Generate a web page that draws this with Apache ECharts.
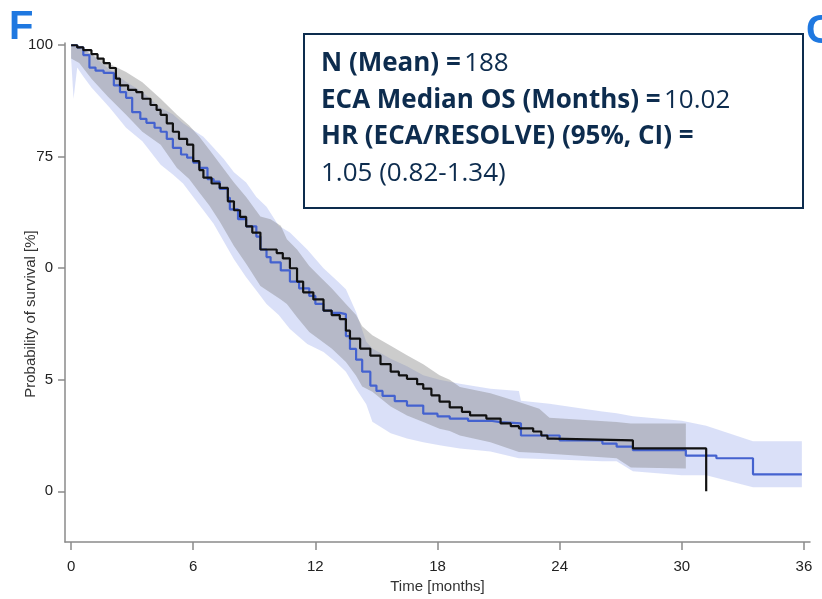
<!DOCTYPE html>
<html>
<head>
<meta charset="utf-8">
<script src="https://cdn.jsdelivr.net/npm/echarts@6/dist/echarts.min.js"></script>
<style>
  html, body { margin: 0; padding: 0; background: #fff; }
  #chart { width: 822px; height: 599px; }
</style>
</head>
<body>
<div id="chart"></div>
<script>
// tick positions and the labels as printed on the (cropped) figure
const xTicks = [0, 6, 12, 18, 24, 30, 36];
const yTicks = [0, 25, 50, 75, 100];
const yTickLabels = ['0', '5', '0', '75', '100'];

// Kaplan-Meier steps [month, survival %]
const ecaCurve = [
  [0, 100], [0.3, 99.5], [0.6, 98.9], [1.0, 98], [1.3, 97], [1.6, 96], [1.9, 94.9],
  [2.2, 92.5], [2.4, 91], [2.8, 90], [3.2, 89.5], [3.5, 88], [3.9, 86.6], [4.2, 85.5],
  [4.4, 84.4], [4.7, 82.5], [5.0, 80.6], [5.3, 79], [5.7, 77.7], [6.0, 74], [6.3, 72],
  [6.5, 70.3], [6.9, 69], [7.3, 68], [7.7, 65], [8.0, 63], [8.3, 61.5], [8.6, 59.4],
  [8.9, 58], [9.3, 54.2], [10.1, 53.4], [10.4, 52.2], [10.75, 50], [11.1, 47], [11.4, 44.6],
  [11.9, 43], [12.4, 40.5], [12.8, 39.5], [13.2, 38.6], [13.5, 36], [13.7, 34.2], [14.2, 32],
  [14.7, 30.4], [15.2, 28.5], [15.7, 26.8], [16.1, 26], [16.5, 25.2], [17.0, 24], [17.3, 23],
  [17.7, 21.5], [18.1, 20.1], [18.6, 18.8], [19.2, 17.8], [19.6, 17], [20.4, 16.3],
  [21.1, 15.2], [21.6, 14.6], [22.0, 14.1], [22.7, 13.4], [23.1, 12.5], [23.4, 11.8],
  [23.7, 11.4], [27.6, 9.6], [31.2, 0]
];
const resolveCurve = [
  [0, 100], [0.3, 99.5], [0.6, 97.8], [0.9, 95], [1.2, 94.3], [1.6, 93.8], [2.1, 91],
  [2.4, 89.5], [2.7, 88.2], [3.0, 85], [3.4, 83.5], [3.7, 82.6], [4.1, 81.5], [4.4, 80.6],
  [4.7, 79], [5.0, 77], [5.4, 75.5], [5.7, 74.8], [6.0, 73.7], [6.3, 72.5], [6.7, 70],
  [7.0, 69.4], [7.3, 67.8], [7.7, 65.8], [7.8, 63.2], [8.2, 61], [8.6, 59.4], [9.1, 57.1],
  [9.3, 54.2], [9.6, 52.5], [9.8, 51.3], [10.3, 49.5], [10.75, 47], [11.2, 45.5],
  [11.7, 43.8], [12.0, 42], [12.4, 40.5], [12.8, 40], [13.2, 39.7], [13.5, 34.8],
  [13.7, 31.9], [14.0, 29.5], [14.3, 26.8], [14.7, 23.7], [15.0, 22.5], [15.3, 21.4],
  [15.9, 20.2], [16.5, 19.2], [17.3, 17.4], [18.0, 16.8], [18.6, 16.3], [19.5, 15.8],
  [20.6, 15.5], [21.1, 15.2], [22.1, 12.5], [24.0, 11.4], [26.1, 10.7], [26.8, 10],
  [27.6, 9.2], [30.2, 8], [31.7, 7.4], [33.5, 3.8], [35.9, 3.8]
];

// 95% CI band outlines [month, lower, upper]
const ecaBand = [
  [0, 97, 100], [0.4, 96, 99.5], [1.0, 92.5, 98], [1.8, 88.5, 96], [2.7, 84.4, 94],
  [3.5, 80.6, 91.7], [4.4, 77.7, 88], [5.2, 72.5, 84.4], [5.8, 70, 82], [6.3, 67, 79.5],
  [6.8, 64, 76.5], [7.3, 60.5, 73.5], [8.0, 55, 69.2], [8.6, 51, 66], [9.3, 46, 61.6],
  [9.8, 44.5, 61], [10.3, 43, 59.5], [10.6, 42, 56.5], [11.1, 39, 54.2], [11.7, 35.7, 50.5],
  [12.2, 34, 48.2], [12.8, 32, 45.5], [13.5, 29, 42], [14.0, 25.9, 39.5], [14.3, 23.5, 37],
  [14.8, 22.3, 35], [15.7, 19, 32.6], [16.5, 17, 30.5], [17.3, 15.5, 28.5], [18.1, 14, 26],
  [18.6, 13.5, 25], [19.1, 12.5, 23.4], [20.6, 11, 22], [22.0, 8.8, 20], [23.0, 8.6, 18.5],
  [23.5, 8.4, 16.5], [26.8, 7.4, 15.5], [27.5, 5.3, 15.2], [30.2, 5.1, 15.2]
];
const resolveBand = [
  [0, 97, 100], [0.12, 88, 100], [0.3, 95, 100], [0.6, 93, 99.3], [1.0, 90.5, 98],
  [1.5, 88, 96], [1.9, 86, 94.5], [2.7, 81.5, 91.8], [3.5, 78.5, 89.5], [4.4, 73.2, 86],
  [5.0, 71, 84.5], [5.5, 69, 82.5], [6.0, 66, 81], [6.5, 63, 79.5], [7.0, 60, 77],
  [7.5, 56, 74.5], [8.0, 52, 71.5], [8.6, 48, 69.2], [9.1, 45, 66], [9.6, 42, 63.8],
  [10.2, 39.5, 59.5], [10.75, 36.4, 58], [11.6, 33, 54.2], [12.4, 31.2, 50], [13.0, 29, 47.5],
  [13.5, 26.8, 45.3], [14.0, 23, 40.2], [14.5, 19.5, 33.5], [14.8, 15.6, 32], [15.7, 13, 29.7],
  [16.5, 11.8, 28], [17.3, 11, 26], [18.1, 10.3, 25], [19.1, 9.6, 24.1], [20.6, 8.9, 23],
  [22.0, 7.4, 22.5], [22.1, 7.4, 20.3], [23.5, 7.2, 19.6], [26.1, 6.7, 17.9], [26.8, 6.7, 17.5],
  [27.6, 4.5, 16.8], [30.0, 3.6, 15.8], [31.2, 3.6, 14.7], [33.5, 0.9, 11.2], [35.9, 0.9, 11.2]
];

// band polygon (upper edge forward, lower edge back), built through the axis scales
function bandSeries(band, color) {
  return {
    type: 'custom',
    silent: true,
    clip: true,
    data: band,
    encode: { x: 0, y: [1, 2] },
    renderItem: function (params, api) {
      if (params.dataIndex !== 0) return null;
      const pts = [];
      band.forEach(function (d) { pts.push(api.coord([d[0], d[2]])); });
      for (let i = band.length - 1; i >= 0; i--) pts.push(api.coord([band[i][0], band[i][1]]));
      return { type: 'polygon', shape: { points: pts }, style: { fill: color } };
    }
  };
}

const axisColor = '#8a8a8a';
const tickFont = { fontFamily: 'Liberation Sans', fontSize: 15, color: '#222' };
const chart = echarts.init(document.getElementById('chart'));

chart.setOption({
  animation: false,
  grid: { left: 65, right: 12, top: 43, bottom: 54 },
  xAxis: {
    type: 'value', min: -0.3, max: 36.3,
    name: 'Time [months]', nameLocation: 'middle', nameGap: 31,
    nameTextStyle: { fontFamily: 'Liberation Sans', fontSize: 15, color: '#333' },
    axisLine: { show: true, onZero: false, lineStyle: { color: axisColor, width: 1.5 } },
    axisTick: { show: true, length: 8, customValues: xTicks, lineStyle: { color: axisColor, width: 1.5 } },
    axisLabel: Object.assign({ customValues: xTicks, margin: 17 }, tickFont),
    splitLine: { show: false }
  },
  yAxis: {
    type: 'value', min: -11.4, max: 100.5,
    axisLine: { show: true, onZero: false, lineStyle: { color: axisColor, width: 1.5 } },
    axisTick: { show: true, length: 7, customValues: yTicks, lineStyle: { color: axisColor, width: 1.5 } },
    axisLabel: Object.assign({
      customValues: yTicks, margin: 12,
      formatter: function (v) { return yTickLabels[yTicks.indexOf(v)]; }
    }, tickFont),
    splitLine: { show: false }
  },
  series: [
    bandSeries(resolveBand, 'rgba(120,140,230,0.27)'),
    bandSeries(ecaBand, 'rgba(128,128,128,0.4)'),
    {
      name: 'RESOLVE', type: 'line', step: 'end', data: resolveCurve, showSymbol: false,
      lineStyle: { color: '#4462cf', width: 2.2 }, z: 3
    },
    {
      name: 'ECA', type: 'line', step: 'end', data: ecaCurve, showSymbol: false,
      lineStyle: { color: '#111', width: 2.2 }, z: 4
    }
  ],
  graphic: [
    { type: 'text', left: 9, top: 8, style: { text: 'F', fontFamily: 'Liberation Sans', fontWeight: 'bold', fontSize: 40, fill: '#1f78e0' } },
    { type: 'text', left: 806, top: 12, style: { text: 'C', fontFamily: 'Liberation Sans', fontWeight: 'bold', fontSize: 40, fill: '#1f78e0' } },
    {
      type: 'text', x: 31, y: 314, rotation: Math.PI / 2,
      style: { text: 'Probability of survival [%]', fontFamily: 'Liberation Sans', fontSize: 15, fill: '#333', align: 'center', verticalAlign: 'middle' }
    },
    {
      type: 'rect', left: 303, top: 33, z: 10,
      shape: { width: 499, height: 174 },
      style: { fill: '#fff', stroke: '#0d2c4e', lineWidth: 2 }
    },
    {
      type: 'text', left: 321, top: 51, z: 11,
      style: {
        text: '{b|N (Mean) =} {n|188}\n{b|ECA Median OS (Months) =} {n|10.02}\n{b|HR (ECA/RESOLVE) (95%, CI) =}\n{n|1.05 (0.82-1.34)}',
        rich: {
          b: { fontFamily: 'Open Sans', fontWeight: 'bold', fontSize: 26, fill: '#0d2c4e', lineHeight: 36.5 },
          n: { fontFamily: 'Open Sans', fontSize: 26, fill: '#0d2c4e', lineHeight: 36.5 }
        }
      }
    }
  ]
});
</script>
</body>
</html>
